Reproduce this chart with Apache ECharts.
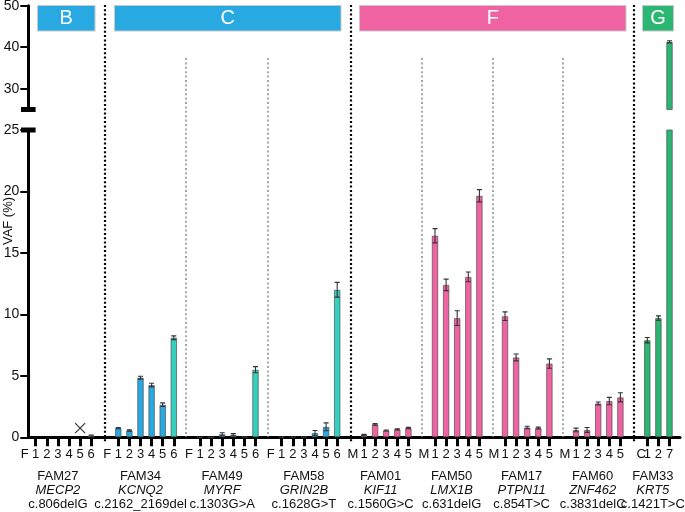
<!DOCTYPE html>
<html>
<head>
<meta charset="utf-8">
<script src="https://cdn.jsdelivr.net/npm/echarts@6/dist/echarts.min.js"></script>
<style>
  html, body { margin: 0; padding: 0; background: #fff; }
  #chart { width: 685px; height: 512px; }
</style>
</head>
<body>
<div id="chart"></div>
<script>
// ---------------- data ----------------
const groupNames = ['FAM27', 'FAM34', 'FAM49', 'FAM58', 'FAM01', 'FAM50', 'FAM17', 'FAM60', 'FAM33'];
const geneNames  = ['MECP2', 'KCNQ2', 'MYRF', 'GRIN2B', 'KIF11', 'LMX1B', 'PTPN11', 'ZNF462', 'KRT5'];
const mutations  = ['c.806delG', 'c.2162_2169del', 'c.1303G>A', 'c.1628G>T', 'c.1560G>C', 'c.631delG', 'c.854T>C', 'c.3831delC', 'c.1421T>C'];
const groupPanel = ['B', 'C', 'C', 'C', 'F', 'F', 'F', 'F', 'G'];
const panelNames = ['B', 'C', 'F', 'G'];

const samplesFAM27 = ['F', '1', '2', '3', '4', '5', '6'];
const samplesFAM34 = ['F', '1', '2', '3', '4', '5', '6'];
const samplesFAM49 = ['F', '1', '2', '3', '4', '5', '6'];
const samplesFAM58 = ['F', '1', '2', '3', '4', '5', '6'];
const samplesFAM01 = ['M', '1', '2', '3', '4', '5'];
const samplesFAM50 = ['M', '1', '2', '3', '4', '5'];
const samplesFAM17 = ['M', '1', '2', '3', '4', '5'];
const samplesFAM60 = ['M', '1', '2', '3', '4', '5'];
const samplesFAM33 = ['C', '1', '2', '7'];

// VAF (%) mean values; null = no bar
const vafFAM27 = [null, null, null, null, null, null, 0.15];
const vafFAM34 = [null, 0.75, 0.55, 4.85, 4.25, 2.65, 8.1];
const vafFAM49 = [null, 0, 0, 0.25, 0.2, 0.05, 5.5];
const vafFAM58 = [null, 0.05, 0.05, 0.05, 0.35, 0.85, 12.0];
const vafFAM01 = [null, 0.2, 1.05, 0.55, 0.65, 0.75];
const vafFAM50 = [null, 16.4, 12.4, 9.7, 13.05, 19.65];
const vafFAM17 = [null, 9.85, 6.5, 0.8, 0.75, 6.0];
const vafFAM60 = [null, 0.6, 0.6, 2.75, 2.95, 3.25];
const vafFAM33 = [null, 7.9, 9.7, 41.3];

// error (half range)
const errFAM27 = [null, null, null, null, null, null, 0.04];
const errFAM34 = [null, 0.05, 0.05, 0.12, 0.15, 0.15, 0.15];
const errFAM49 = [null, null, null, 0.12, 0.1, null, 0.25];
const errFAM58 = [null, null, null, null, 0.2, 0.32, 0.6];
const errFAM01 = [null, 0.04, 0.06, 0.04, 0.05, 0.06];
const errFAM50 = [null, 0.58, 0.47, 0.6, 0.4, 0.5];
const errFAM17 = [null, 0.35, 0.28, 0.1, 0.08, 0.38];
const errFAM60 = [null, 0.15, 0.2, 0.12, 0.3, 0.37];
const errFAM33 = [null, 0.22, 0.18, 0.25];

// not-detected marker (group, sample, shown height)
const notDetectedGroup = 'FAM27';
const notDetectedSample = '5';
const notDetectedValue = 0.75;

const yLowerTicks = [0, 5, 10, 15, 20, 25];
const yUpperTicks = [30, 40, 50];

// ---------------- styles / layout ----------------
const samplesByGroup = [samplesFAM27, samplesFAM34, samplesFAM49, samplesFAM58, samplesFAM01, samplesFAM50, samplesFAM17, samplesFAM60, samplesFAM33];
const vafByGroup = [vafFAM27, vafFAM34, vafFAM49, vafFAM58, vafFAM01, vafFAM50, vafFAM17, vafFAM60, vafFAM33];
const errByGroup = [errFAM27, errFAM34, errFAM49, errFAM58, errFAM01, errFAM50, errFAM17, errFAM60, errFAM33];

const COL = { blue: '#29a9e1', teal: '#35d0bf', pink: '#ef63a2', green: '#2bb673' };
const panelColor = { B: COL.blue, C: COL.blue, F: COL.pink, G: COL.green };
const panelBox = { B: [37.5, 95], C: [114.5, 341], F: [359.5, 626], G: [642.5, 673.5] };
const FONT = 'Liberation Sans, Arial, Helvetica, sans-serif';

const slotW = 11.1;
const firstSlotX = [24.6, 107.2, 188.9, 270.6, 352.9, 423.9, 493.9, 564.9, 636.2];
const axisLeft = 28.3, axisRight = 680;
const lowTop = 130, lowBottom = 437.3;
const upTop = 5.7, upBottom = 109.5;
const blackDividers = [105, 351, 634];
const grayDividers = [186, 268, 422, 493, 563];

function barColor(g, i) {
  const p = groupPanel[g];
  if ((p === 'B' || p === 'C') && samplesByGroup[g][i] === '6') return COL.teal;
  return panelColor[p];
}

function mkGrid(left, width, top, height) {
  return { left: left, width: width, top: top, height: height, outerBoundsMode: 'none', containLabel: false };
}

const grids = [
  mkGrid(axisLeft, axisRight - axisLeft, lowTop, lowBottom - lowTop),
  mkGrid(axisLeft, axisRight - axisLeft, upTop, upBottom - upTop)
];
const xAxes = [
  { gridIndex: 0, type: 'category', data: [''], axisLine: { lineStyle: { color: '#000', width: 3 } },
    axisTick: { show: false }, axisLabel: { show: false } },
  { gridIndex: 1, type: 'category', data: [''], show: false }
];
const yAxes = [
  { gridIndex: 0, type: 'value', min: 0, max: 25, interval: 5,
    axisLine: { show: true, lineStyle: { color: '#000', width: 3 } },
    axisTick: { show: true, length: 8, lineStyle: { color: '#000', width: 2 }, customValues: yLowerTicks },
    axisLabel: { color: '#111', fontSize: 14, margin: 9, fontFamily: FONT, customValues: yLowerTicks },
    splitLine: { show: false } },
  { gridIndex: 1, type: 'value', min: 25, max: 50,
    axisLine: { show: true, lineStyle: { color: '#000', width: 3 } },
    axisTick: { show: true, length: 8, lineStyle: { color: '#000', width: 2 }, customValues: yUpperTicks },
    axisLabel: { color: '#111', fontSize: 14, margin: 9, fontFamily: FONT, customValues: yUpperTicks },
    splitLine: { show: false } }
];
const series = [];

function errRenderer(segMin, segMax) {
  return function (params, api) {
    const v = api.value(1), e = api.value(2);
    if (isNaN(v) || isNaN(e) || v <= segMin || v > segMax) return null;
    const i = api.value(0);
    const top = api.coord([i, v + e]);
    const bot = api.coord([i, v - e]);
    const hw = 2.5;
    const st = { stroke: '#333', lineWidth: 1.1 };
    return { type: 'group', children: [
      { type: 'line', shape: { x1: top[0], y1: top[1], x2: bot[0], y2: bot[1] }, style: st },
      { type: 'line', shape: { x1: top[0] - hw, y1: top[1], x2: top[0] + hw, y2: top[1] }, style: st },
      { type: 'line', shape: { x1: bot[0] - hw, y1: bot[1], x2: bot[0] + hw, y2: bot[1] }, style: st }
    ] };
  };
}

groupNames.forEach(function (name, g) {
  const cats = samplesByGroup[g];
  const left = firstSlotX[g] - slotW / 2;
  const width = cats.length * slotW;
  const gl = grids.length;
  grids.push(mkGrid(left, width, lowTop, lowBottom - lowTop));
  grids.push(mkGrid(left, width, upTop, upBottom - upTop));
  const labelFmt = function (v) { return v === 'C' ? '{c|C}' : v; };
  xAxes.push({
    gridIndex: gl, type: 'category', data: cats, boundaryGap: true,
    axisLine: { show: false },
    axisTick: { show: true, alignWithLabel: true, length: 9, lineStyle: { color: '#000', width: 3 },
      interval: function (idx) { return idx !== 0; } },
    axisLabel: { interval: 0, fontSize: 13, color: '#111', margin: 11, fontFamily: FONT, formatter: labelFmt,
      hideOverlap: false,
      rich: { c: { fontSize: 13, color: '#111', fontFamily: FONT, padding: [0, 0, 0, 10] } } },
    name: '{a|' + name + '}\n{b|' + geneNames[g] + '}\n{c|' + mutations[g] + '}',
    nameLocation: 'middle', nameGap: 32,
    nameTextStyle: { rich: {
      a: { fontSize: 13, color: '#111', fontFamily: FONT, lineHeight: 14 },
      b: { fontSize: 13, color: '#111', fontFamily: FONT, fontStyle: 'italic', lineHeight: 14 },
      c: { fontSize: 13, color: '#111', fontFamily: FONT, lineHeight: 14 }
    } }
  });
  xAxes.push({ gridIndex: gl + 1, type: 'category', data: cats, boundaryGap: true, show: false });
  yAxes.push({ gridIndex: gl, type: 'value', min: 0, max: 25, show: false, splitLine: { show: false } });
  yAxes.push({ gridIndex: gl + 1, type: 'value', min: 25, max: 50, show: false, splitLine: { show: false } });

  const barData = vafByGroup[g].map(function (v, i) {
    if (v === null) return '-';
    return { value: v, itemStyle: { color: barColor(g, i) } };
  });
  const errData = vafByGroup[g].map(function (v, i) {
    const e = errByGroup[g][i];
    return (v === null || e === null) ? [i, '-', '-'] : [i, v, e];
  });
  [[gl, 0, 25], [gl + 1, 25, 50]].forEach(function (seg) {
    series.push({
      type: 'bar', xAxisIndex: seg[0], yAxisIndex: seg[0], data: barData, barWidth: 6.5, clip: true,
      itemStyle: { borderColor: 'rgba(70,70,70,0.65)', borderWidth: 1 }, silent: true, animation: false
    });
    series.push({
      type: 'custom', xAxisIndex: seg[0], yAxisIndex: seg[0], data: errData, clip: true,
      renderItem: errRenderer(seg[1], seg[2]), silent: true, animation: false, z: 5
    });
  });
  if (name === notDetectedGroup) {
    series.push({
      type: 'custom', xAxisIndex: gl, yAxisIndex: gl,
      data: [[cats.indexOf(notDetectedSample), notDetectedValue]], silent: true, animation: false,
      renderItem: function (params, api) {
        const p = api.coord([api.value(0), api.value(1)]);
        const s = 5;
        const st = { stroke: '#333', lineWidth: 1.2 };
        return { type: 'group', children: [
          { type: 'line', shape: { x1: p[0] - s, y1: p[1] - s, x2: p[0] + s, y2: p[1] + s }, style: st },
          { type: 'line', shape: { x1: p[0] - s, y1: p[1] + s, x2: p[0] + s, y2: p[1] - s }, style: st }
        ] };
      }
    });
  }
});

// ---------------- decorations ----------------
const graphic = [];
blackDividers.forEach(function (x) {
  graphic.push({ type: 'line', silent: true, z: 1, shape: { x1: x, y1: 5, x2: x, y2: 442 },
    style: { stroke: '#000', lineWidth: 2.2, lineDash: [2, 2.3] } });
});
grayDividers.forEach(function (x) {
  graphic.push({ type: 'line', silent: true, z: 1, shape: { x1: x, y1: 58, x2: x, y2: 437 },
    style: { stroke: '#a8a8a8', lineWidth: 2, lineDash: [2, 2.4] } });
});
panelNames.forEach(function (p) {
  const b = panelBox[p];
  graphic.push({ type: 'rect', silent: true, shape: { x: b[0], y: 5.5, width: b[1] - b[0], height: 25.5 },
    style: { fill: panelColor[p], stroke: '#c8c8c8', lineWidth: 1 } });
  graphic.push({ type: 'text', silent: true, x: (b[0] + b[1]) / 2, y: 18.5,
    style: { text: p, fill: '#fff', font: '20px ' + FONT, textAlign: 'center', textVerticalAlign: 'middle' } });
});
// axis break caps
[upBottom, lowTop].forEach(function (y) {
  graphic.push({ type: 'rect', silent: true, z: 10, shape: { x: axisLeft - 7.3, y: y - 2.5, width: 14.6, height: 5 },
    style: { fill: '#000' } });
});
graphic.push({ type: 'text', silent: true, x: 8, y: 221, rotation: Math.PI / 2,
  style: { text: 'VAF (%)', fill: '#111', font: '13px ' + FONT, textAlign: 'center', textVerticalAlign: 'middle' } });

const chart = echarts.init(document.getElementById('chart'), null, { renderer: 'canvas' });
chart.setOption({
  animation: false,
  textStyle: { fontFamily: FONT },
  grid: grids,
  xAxis: xAxes,
  yAxis: yAxes,
  series: series,
  graphic: graphic
});
</script>
</body>
</html>
